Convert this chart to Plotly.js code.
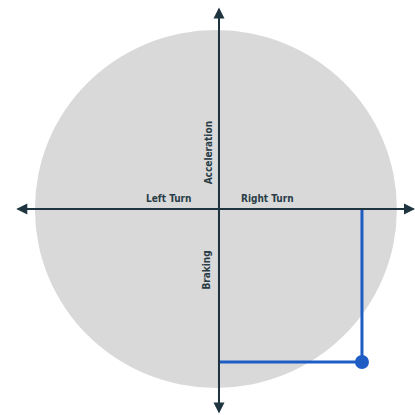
<!DOCTYPE html>
<html>
<head>
<meta charset="utf-8">
<script src="https://cdn.plot.ly/plotly-3.0.1.min.js"></script>
<style>html,body{margin:0;padding:0;background:#fff;}#chart{width:415px;height:415px;}</style>
</head>
<body>
<div id="chart"></div>
<script>
// g-force reading (lateral: + right turn, longitudinal: + acceleration)
const lateral = [0.79];
const longitudinal = [-0.85];
const axisLabels = ["Acceleration", "Braking", "Left Turn", "Right Turn"];

const axisColor = "#1f3640";
const blue = "#1f5cc4";
const labelFont = {family: "Liberation Sans Narrow, DejaVu Sans Condensed, Arial Narrow, sans-serif", size: 10, color: "#2a3d47", weight: 700};

const traces = [
  {
    x: [0, lateral[0], lateral[0]],
    y: [longitudinal[0], longitudinal[0], 0],
    mode: "lines",
    line: {color: blue, width: 3},
    hoverinfo: "skip",
    showlegend: false
  },
  {
    x: lateral,
    y: longitudinal,
    mode: "markers",
    marker: {color: blue, size: 14},
    showlegend: false
  }
];

const arrow = (x, y, ax, ay) => ({
  x: x, y: y, ax: ax, ay: ay, xref: "x", yref: "y", axref: "x", ayref: "y",
  showarrow: true, arrowhead: 2, arrowsize: 1.1, arrowwidth: 2, arrowcolor: axisColor, text: ""
});

const layout = {
  width: 415, height: 415,
  margin: {l: 0, r: 0, t: 0, b: 0},
  paper_bgcolor: "#fff",
  plot_bgcolor: "#fff",
  xaxis: {range: [-1.21, 1.083], visible: false, fixedrange: true},
  yaxis: {range: [-1.144, 1.161], visible: false, fixedrange: true},
  shapes: [
    {type: "circle", xref: "x", yref: "y", x0: -1.017, x1: 0.983, y0: -0.994, y1: 0.994,
     fillcolor: "#d9d9d9", line: {width: 0}, layer: "below"}
  ],
  annotations: [
    arrow(1.083, 0, -1.12, 0),
    arrow(-1.12, 0, 1.083, 0),
    arrow(0, 1.12, 0, -1.135),
    arrow(0, -1.135, 0, 1.12),
    {x: -0.06, y: 0.31, xref: "x", yref: "y", text: axisLabels[0], showarrow: false, textangle: -90, font: labelFont},
    {x: -0.07, y: -0.34, xref: "x", yref: "y", text: axisLabels[1], showarrow: false, textangle: -90, font: labelFont},
    {x: -0.28, y: 0.06, xref: "x", yref: "y", text: axisLabels[2], showarrow: false, font: labelFont},
    {x: 0.27, y: 0.06, xref: "x", yref: "y", text: axisLabels[3], showarrow: false, font: labelFont}
  ]
};

Plotly.newPlot("chart", traces, layout, {displayModeBar: false, staticPlot: true});
</script>
</body>
</html>
